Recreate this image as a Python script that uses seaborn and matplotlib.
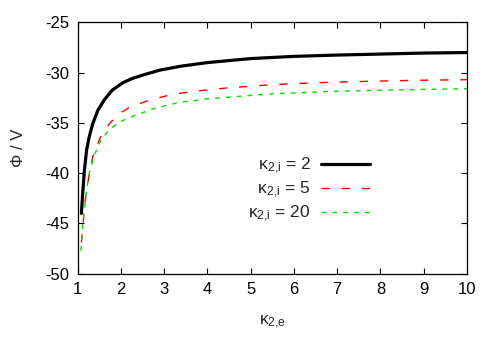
import matplotlib
matplotlib.use("Agg")
import matplotlib.pyplot as plt
import seaborn as sns

# values
x_k2 = [1.09, 1.12, 1.16, 1.21, 1.27, 1.35, 1.47, 1.62, 1.80, 2.05, 2.25, 2.5, 2.9, 3.4,
        4.0, 5.0, 6.0, 7.0, 8.0, 9.0, 10.0]
phi_k2 = [-44.0, -42.0, -39.7, -37.7, -36.4, -35.1, -33.75, -32.7, -31.75, -31.0, -30.6,
          -30.25, -29.75, -29.35, -29.0, -28.6, -28.38, -28.25, -28.15, -28.05, -28.0]
x_k5 = [1.09, 1.13, 1.18, 1.26, 1.35, 1.52, 1.75, 2.0, 2.2, 2.65, 3.15, 3.6, 4.5, 5.5,
        6.5, 7.8, 9.0, 10.0]
phi_k5 = [-46.9, -45.0, -42.7, -40.4, -38.4, -36.5, -35.0, -34.0, -33.45, -32.75, -32.2,
          -31.9, -31.5, -31.2, -31.0, -30.85, -30.75, -30.7]
x_k20 = [1.08, 1.13, 1.20, 1.27, 1.39, 1.54, 1.73, 1.97, 2.3, 2.75, 3.3, 4.0, 5.5, 7.0,
         8.5, 10.0]
phi_k20 = [-47.7, -44.7, -42.0, -40.0, -38.2, -36.7, -35.7, -34.9, -34.3, -33.6, -33.0,
           -32.6, -32.1, -31.85, -31.7, -31.6]
# figure spaces keep the legend labels right-aligned like the original
labels = ["\u2007κ$_{2{,}\\mathrm{i}}$ = 2", "\u2007κ$_{2{,}\\mathrm{i}}$ = 5",
          "κ$_{2{,}\\mathrm{i}}$ = 20"]

sns.set_style("ticks")
plt.rcParams['font.family'] = ['Liberation Sans', 'DejaVu Sans']
plt.rcParams['mathtext.fontset'] = 'custom'
plt.rcParams['mathtext.rm'] = 'Liberation Sans'
plt.rcParams['mathtext.it'] = 'Liberation Sans'
plt.rcParams['axes.unicode_minus'] = False

fig = plt.figure(figsize=(5, 3.5), dpi=100)
ax = fig.add_axes([0.155, 0.218, 0.779, 0.718])

sns.lineplot(x=x_k2, y=phi_k2, ax=ax, color='black', lw=2.3, label=labels[0])
sns.lineplot(x=x_k5, y=phi_k5, ax=ax, color='#ff0000', lw=1.0,
             linestyle=(0, (6, 8.5)), label=labels[1])
sns.lineplot(x=x_k20, y=phi_k20, ax=ax, color='#00e000', lw=1.0,
             linestyle=(0, (3.5, 4.3)), label=labels[2])

ax.set_xlim(1, 10)
ax.set_ylim(-50, -25)
ax.set_xticks(range(1, 11))
ax.set_yticks(range(-50, -24, 5))
ax.tick_params(direction='in', length=4, width=0.8, labelsize=12, top=True, right=True,
               colors='black', pad=6)
for s in ax.spines.values():
    s.set_linewidth(0.9)
    s.set_color('black')

ax.set_xlabel("κ$_{2{,}\\mathrm{e}}$", fontsize=12.5, labelpad=12)
ax.set_ylabel("Φ / V", fontsize=12, labelpad=14)

ax.legend(loc='upper right', bbox_to_anchor=(0.751, 0.47), frameon=False,
          markerfirst=False, fontsize=12.5, handlelength=2.8, handletextpad=0.6,
          labelspacing=0.22, borderpad=0, borderaxespad=0)

fig.savefig("out.png", dpi=100)
